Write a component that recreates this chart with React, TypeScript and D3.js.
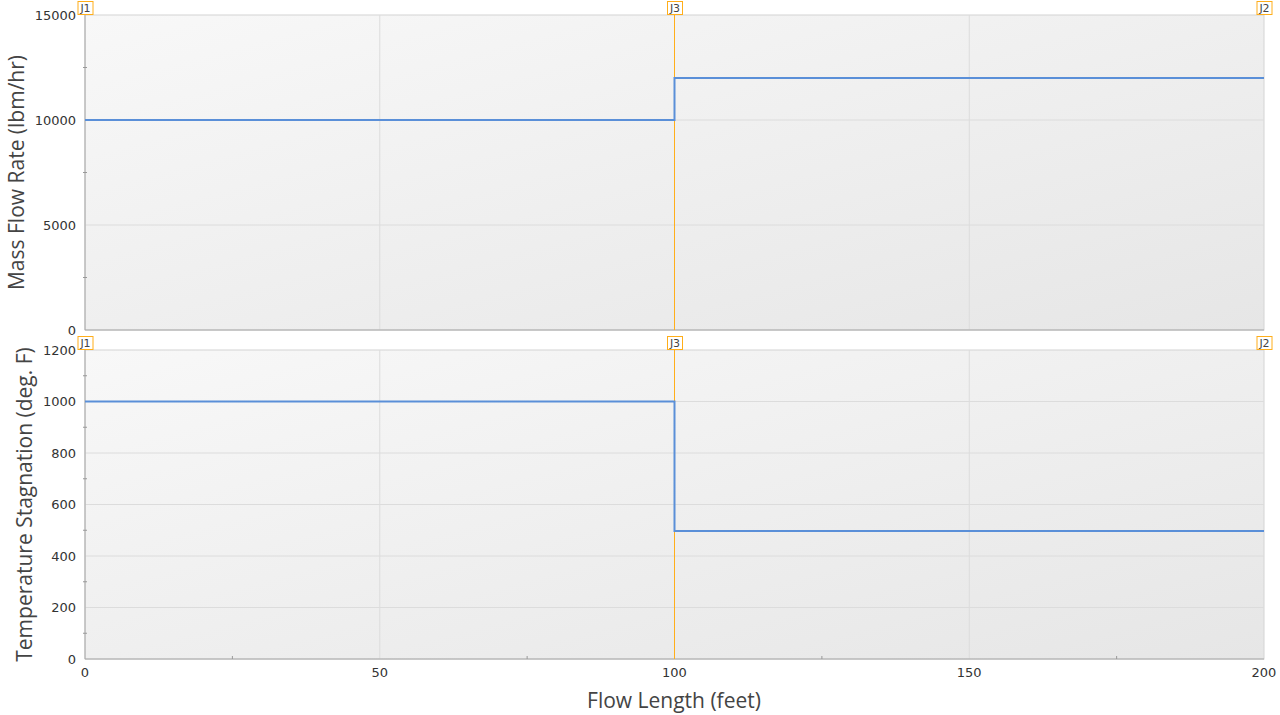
import * as d3 from "d3";

const flowLength = [0, 100, 200];
const massFlow = [10000, 12000, 12000];
const tempStag = [1000, 497, 497];
const junctions = [
  { name: "J1", x: 0 },
  { name: "J3", x: 100 },
  { name: "J2", x: 200 },
];
const xTicks = [0, 50, 100, 150, 200];
const xMinor = [25, 75, 125, 175];
const massTicks = [0, 5000, 10000, 15000];
const massMinor = [2500, 7500, 12500];
const tempTicks = [0, 200, 400, 600, 800, 1000, 1200];
const tempMinor = [100, 300, 500, 700, 900, 1100];

const width = 1280;
const height = 715;
const left = 85;
const right = 1264;
const lineColor = "#5a8fd8";
const orange = "#ffae1a";
const font = "Tahoma, 'DejaVu Sans', sans-serif";
const titleFont = "'Open Sans', 'Noto Sans', sans-serif";

type PanelProps = {
  top: number;
  bottom: number;
  values: number[];
  yMax: number;
  ticks: number[];
  minor: number[];
  title: string;
  titleX: number;
  showX: boolean;
  id: string;
};

function Panel({ top, bottom, values, yMax, ticks, minor, title, titleX, showX, id }: PanelProps) {
  const x = d3.scaleLinear().domain([0, 200]).range([left, right]);
  const y = d3.scaleLinear().domain([0, yMax]).range([bottom, top]);
  const line = d3
    .line<number>()
    .x((_, i) => x(flowLength[i]))
    .y((d) => y(d))
    .curve(d3.curveStepAfter);

  return (
    <g>
      <defs>
        <linearGradient id={id} x1="0" y1="0" x2="1" y2="1">
          <stop offset="0%" stopColor="#f8f8f8" />
          <stop offset="100%" stopColor="#e6e6e6" />
        </linearGradient>
      </defs>
      <rect x={left} y={top} width={right - left} height={bottom - top} fill={`url(#${id})`} stroke="#d4d4d4" />
      {ticks.slice(1, -1).map((t) => (
        <line key={t} x1={left} x2={right} y1={y(t)} y2={y(t)} stroke="#dcdcdc" />
      ))}
      {xTicks.slice(1, -1).map((t) => (
        <line key={t} x1={x(t)} x2={x(t)} y1={top} y2={bottom} stroke="#dcdcdc" />
      ))}
      <line x1={left} x2={left} y1={top} y2={bottom} stroke="#a8a8a8" />
      <line x1={left} x2={right} y1={bottom} y2={bottom} stroke="#a8a8a8" />
      {minor.map((t) => (
        <line key={t} x1={left - 2} x2={left + 2} y1={y(t)} y2={y(t)} stroke="#999" />
      ))}
      {showX &&
        xMinor.map((t) => (
          <line key={t} x1={x(t)} x2={x(t)} y1={bottom - 3} y2={bottom} stroke="#999" />
        ))}
      {ticks.map((t) => (
        <text key={t} x={left - 9} y={y(t)} dy="0.35em" textAnchor="end" fontSize={13} fill="#333" fontFamily={font}>
          {t}
        </text>
      ))}
      {showX &&
        xTicks.map((t) => (
          <text key={t} x={x(t)} y={bottom + 18} textAnchor="middle" fontSize={13} fill="#333" fontFamily={font}>
            {t}
          </text>
        ))}
      <line x1={x(100)} x2={x(100)} y1={top} y2={bottom} stroke={orange} />
      <path d={line(values) || ""} fill="none" stroke={lineColor} strokeWidth={2} />
      {junctions.map((j) => (
        <g key={j.name}>
          <rect x={x(j.x) - 7} y={top - 13.5} width={15} height={13} fill="#fff" stroke={orange} />
          <text x={x(j.x) + 0.5} y={top - 3} textAnchor="middle" fontSize={11} fill="#444" fontFamily={font}>
            {j.name}
          </text>
        </g>
      ))}
      <text
        transform={`translate(${titleX}, ${(top + bottom) / 2}) rotate(-90)`}
        textAnchor="middle"
        dy="0.35em"
        fontSize={21}
        fill="#444"
        fontFamily={titleFont}
      >
        {title}
      </text>
    </g>
  );
}

export default function App() {
  return (
    <svg width={width} height={height} style={{ position: "absolute", left: 0, top: 0, background: "#fff" }}>
      <Panel
        id="g1"
        top={15}
        bottom={330}
        values={massFlow}
        yMax={15000}
        ticks={massTicks}
        minor={massMinor}
        title="Mass Flow Rate (lbm/hr)"
        titleX={17}
        showX={false}
      />
      <Panel
        id="g2"
        top={350}
        bottom={659}
        values={tempStag}
        yMax={1200}
        ticks={tempTicks}
        minor={tempMinor}
        title="Temperature Stagnation (deg. F)"
        titleX={25}
        showX={true}
      />
      <text x={674} y={701} textAnchor="middle" dy="0.35em" fontSize={21} fill="#444" fontFamily={titleFont}>
        Flow Length (feet)
      </text>
    </svg>
  );
}
